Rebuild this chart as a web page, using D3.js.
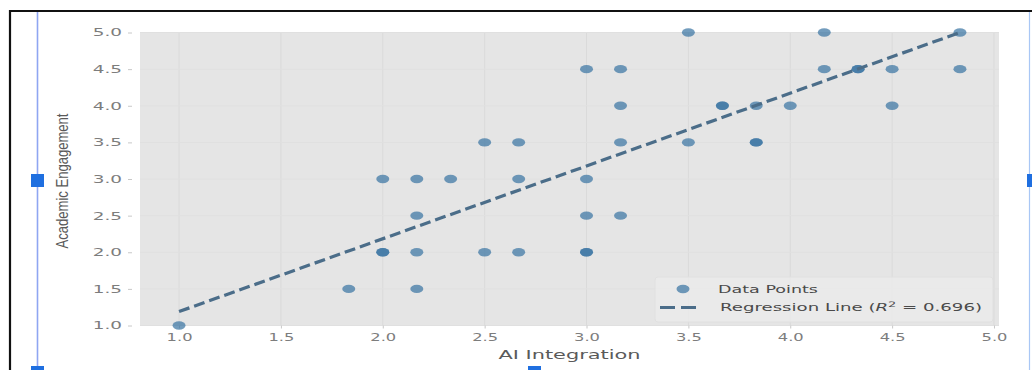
<!DOCTYPE html>
<html><head><meta charset="utf-8">
<script src="https://cdn.jsdelivr.net/npm/d3@7"></script>
<style>html,body{margin:0;padding:0;background:#fff;}svg{display:block;}</style>
</head><body>
<svg id="c" width="1032" height="370"></svg>
<script>
// ---- data ----
const aiIntegration = [1.0,1.833,2.0,2.0,2.0,2.167,2.167,2.167,2.167,2.333,2.5,2.5,2.667,2.667,2.667,
  3.0,3.0,3.0,3.0,3.0,3.167,3.167,3.167,3.167,3.5,3.5,3.667,3.667,3.833,3.833,3.833,4.0,
  4.167,4.167,4.333,4.333,4.5,4.5,4.833,4.833];
const academicEngagement = [1.0,1.5,3.0,2.0,2.0,3.0,2.5,2.0,1.5,3.0,3.5,2.0,3.5,3.0,2.0,
  4.5,3.0,2.5,2.0,2.0,4.5,4.0,3.5,2.5,5.0,3.5,4.0,4.0,4.0,3.5,3.5,4.0,
  5.0,4.5,4.5,4.5,4.5,4.0,5.0,4.5];
const regSlope = 0.994;
const regIntercept = 0.196;
const rSquared = 0.696;
const xTicks = [1.0,1.5,2.0,2.5,3.0,3.5,4.0,4.5,5.0];
const yTicks = [1.0,1.5,2.0,2.5,3.0,3.5,4.0,4.5,5.0];
const xLabel = "AI Integration";
const yLabel = "Academic Engagement";
const legendLabels = ["Data Points", "Regression Line ("];

const svg = d3.select("#c");
const L = 140, R = 999, T = 32.5, B = 325.5;
const xMin = d3.min(aiIntegration), xMax = d3.max(aiIntegration);
const pad = (xMax - xMin) * 0.05;
const x = d3.scaleLinear().domain([xMin - pad, xMax + pad]).range([L, R]);
const y = d3.scaleLinear().domain([1, 5]).range([B, T]);

function stretch(sel, factor){
  sel.each(function(){
    const w = this.getComputedTextLength();
    d3.select(this).attr("textLength", w*factor).attr("lengthAdjust","spacingAndGlyphs");
  });
}

// plot background
svg.append("rect").attr("x", L).attr("y", T).attr("width", R-L).attr("height", B-T).attr("fill", "#e5e5e5");

// grid
const g = svg.append("g");
g.selectAll(".vg").data(xTicks).join("line")
  .attr("x1", d=>x(d)).attr("x2", d=>x(d)).attr("y1", T).attr("y2", B)
  .attr("stroke", "#dadada").attr("stroke-width", 1);
g.selectAll(".hg").data(yTicks).join("line")
  .attr("x1", L).attr("x2", R).attr("y1", d=>y(d)).attr("y2", d=>y(d))
  .attr("stroke", "#e0e0e0").attr("stroke-width", 1);

// axes
const xAxis = svg.append("g").attr("transform", `translate(0,${B})`)
  .call(d3.axisBottom(x).tickValues(xTicks).tickFormat(d3.format(".1f")).tickSize(3).tickPadding(5));
const yAxis = svg.append("g").attr("transform", `translate(${L-8},0)`)
  .call(d3.axisLeft(y).tickValues(yTicks).tickFormat(d3.format(".1f")).tickSize(4).tickPadding(6));
[xAxis, yAxis].forEach(a => {
  a.select(".domain").remove();
  a.selectAll(".tick line").attr("stroke", "#c8c8c8");
  a.selectAll(".tick text").attr("fill", "#7d7d7d").attr("font-family", "DejaVu Sans, sans-serif").attr("font-size", 10.5);
});
stretch(xAxis.selectAll(".tick text"), 1.55);
stretch(yAxis.selectAll(".tick text"), 1.75);

// points
const pts = d3.range(aiIntegration.length).map(i => ({x: aiIntegration[i], y: academicEngagement[i]}));
svg.append("g").selectAll("ellipse").data(pts).join("ellipse")
  .attr("cx", d=>x(d.x)).attr("cy", d=>y(d.y)).attr("rx", 6.5).attr("ry", 4.2)
  .attr("fill", "#3c76a4").attr("fill-opacity", 0.72);

// regression line
const line = d3.line().x(d=>x(d)).y(d=>y(regIntercept + regSlope*d));
svg.append("path").datum([xMin, xMax]).attr("d", line)
  .attr("fill", "none").attr("stroke", "#4b6d89").attr("stroke-width", 3.2)
  .attr("stroke-dasharray", "11,5");

// legend
const lg = svg.append("g");
lg.append("rect").attr("x", 655).attr("y", 277).attr("width", 338).attr("height", 45).attr("rx", 3)
  .attr("fill", "#ebebeb").attr("fill-opacity", 0.8).attr("stroke", "#e0e0e0");
lg.append("ellipse").attr("cx", 683).attr("cy", 289).attr("rx", 6.5).attr("ry", 4.2)
  .attr("fill", "#3c76a4").attr("fill-opacity", 0.72);
lg.append("line").attr("x1", 660).attr("x2", 701).attr("y1", 307.5).attr("y2", 307.5)
  .attr("stroke", "#4b6d89").attr("stroke-width", 3).attr("stroke-dasharray", "15,6");
const t1 = lg.append("text").attr("x", 718).attr("y", 292.5).attr("fill", "#4a4a4a")
  .attr("font-family", "DejaVu Sans, sans-serif").attr("font-size", 10.5).text(legendLabels[0]);
t1.attr("textLength", 100).attr("lengthAdjust", "spacingAndGlyphs");
const t2 = lg.append("text").attr("x", 720).attr("y", 311).attr("fill", "#4a4a4a")
  .attr("font-family", "DejaVu Sans, sans-serif").attr("font-size", 10.5);
t2.append("tspan").text(legendLabels[1]);
t2.append("tspan").attr("font-style", "italic").text("R");
t2.append("tspan").attr("dy", -4).attr("font-size", 7.5).text("2");
t2.append("tspan").attr("dy", 4).text(" = " + rSquared.toFixed(3) + ")");
t2.attr("textLength", 262).attr("lengthAdjust", "spacingAndGlyphs");

// axis labels
const xl = svg.append("text").attr("x", (L+R)/2).attr("y", 359).attr("text-anchor", "middle")
  .attr("fill", "#5a5a5a").attr("font-family", "DejaVu Sans, sans-serif").attr("font-size", 12.5).text(xLabel);
xl.attr("textLength", 142).attr("lengthAdjust", "spacingAndGlyphs");
const yl = svg.append("text").attr("text-anchor", "middle")
  .attr("transform", `translate(68,181) scale(1.35,1) rotate(-90)`)
  .attr("fill", "#5a5a5a").attr("font-family", "Liberation Sans, Arial, sans-serif").attr("font-size", 12.5).text(yLabel);
yl.attr("textLength", 135).attr("lengthAdjust", "spacingAndGlyphs");

// editor frame and selection handles around the picture
svg.append("line").attr("x1", 9).attr("x2", 1032).attr("y1", 11).attr("y2", 11).attr("stroke", "#111").attr("stroke-width", 2.2);
svg.append("line").attr("x1", 10).attr("x2", 10).attr("y1", 10).attr("y2", 370).attr("stroke", "#111").attr("stroke-width", 2.2);
svg.append("line").attr("x1", 37.5).attr("x2", 37.5).attr("y1", 12).attr("y2", 370).attr("stroke", "#8fa6f2").attr("stroke-width", 1.6);
svg.append("line").attr("x1", 1029.5).attr("x2", 1029.5).attr("y1", 12).attr("y2", 370).attr("stroke", "#a9c7f5").attr("stroke-width", 1.2);
const handles = [[31,174,13,13],[1027,174,8,13],[31,366,13,6],[528,366,13,6]];
svg.append("g").selectAll("rect").data(handles).join("rect")
  .attr("x", d=>d[0]).attr("y", d=>d[1]).attr("width", d=>d[2]).attr("height", d=>d[3])
  .attr("fill", "#1f6fe0");
</script>
</body></html>
